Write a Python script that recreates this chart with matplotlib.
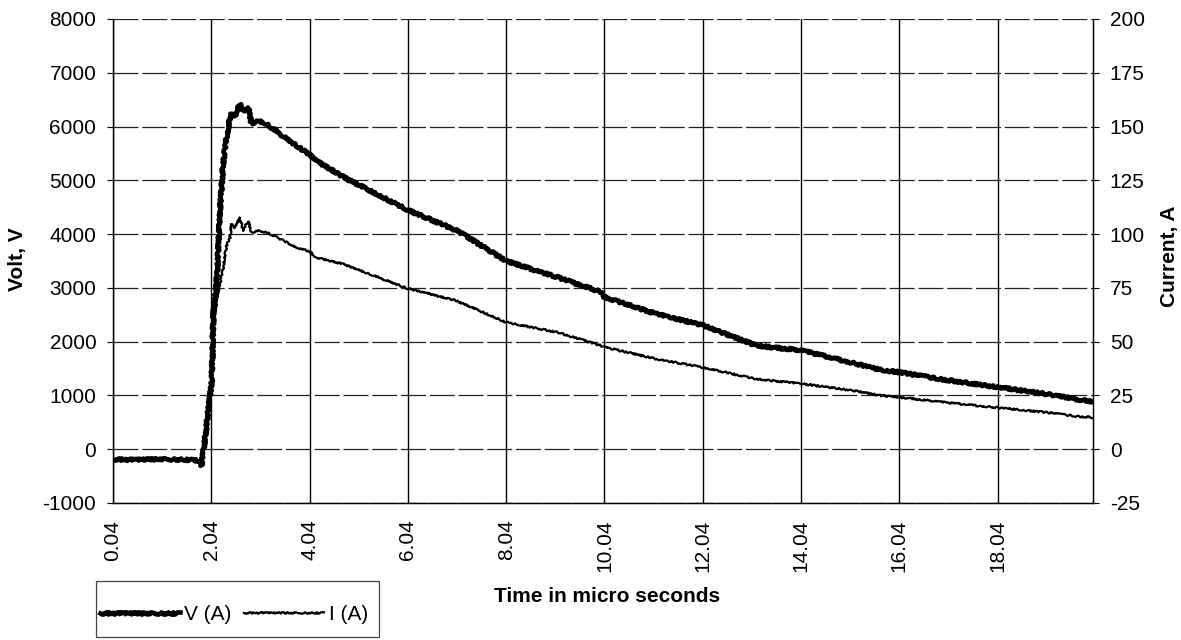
import numpy as np
import matplotlib.pyplot as plt
from matplotlib.patches import Rectangle

plt.rcParams['font.family'] = ['Liberation Sans', 'DejaVu Sans']
plt.rcParams['axes.unicode_minus'] = False

# values (time in micro seconds)
time_us = [0.04, 0.5, 1.0, 1.5, 1.8, 1.84, 1.90, 1.93, 2.05, 2.08, 2.15, 2.22,
           2.28, 2.35, 2.42, 2.45, 2.52, 2.62, 2.69, 2.72, 2.79, 2.86, 3.00,
           3.17, 3.44, 3.78, 4.04, 4.18, 4.73, 6.04, 7.03, 8.04, 9.07, 9.95,
           10.04, 11.10, 12.04, 13.14, 14.04, 15.17, 15.65, 16.04, 17.00,
           18.04, 19.04, 19.70, 19.98]
volt = [-190, -200, -185, -195, -210, -300, 100, 340, 1270, 2500, 3130, 4490,
        5300, 5800, 6150, 6230, 6200, 6420, 6280, 6290, 6350, 6045, 6106,
        6045, 5860, 5640, 5480, 5360, 5061, 4447, 4070, 3500, 3200, 2930,
        2830, 2515, 2305, 1925, 1840, 1587, 1477, 1432, 1287,
        1155, 1026, 920, 880]
current = [-4.8, -5.0, -4.6, -4.9, -5.2, -7.5, 2.0, 8.0, 30.0, 55.0, 70.0, 77.0,
           84.5, 94.5, 98.4, 104.6, 103.0, 107.7, 101.5, 103.0, 106.0, 100.8, 101.5,
           100.8, 97.7, 93.8, 91.9, 89.1, 86.0, 74.7, 69.0, 59.0, 54.4, 48.3,
           47.5, 41.9, 38.0, 32.6, 30.5, 27.0, 25.0, 24.2, 21.7,
           19.3, 17.1, 15.2, 14.8]

xticks = [0.04, 2.04, 4.04, 6.04, 8.04, 10.04, 12.04, 14.04, 16.04, 18.04]
volt_ticks = list(range(-1000, 8001, 1000))
amp_ticks = list(range(-25, 201, 25))

W, H = 1181, 640
fig = plt.figure(figsize=(W / 100, H / 100), dpi=100)
ax = fig.add_axes([113 / W, 1 - 503 / H, 980 / W, 484 / H])
ax2 = ax.twinx()

lv, = ax.plot(time_us, volt, color='black', lw=3.3, solid_joinstyle='round', label='V (A)')
li, = ax2.plot(time_us, current, color='black', lw=1.6, solid_joinstyle='round', label='I (A)')
lv.set_sketch_params(scale=1.2, length=3, randomness=4)
li.set_sketch_params(scale=0.8, length=3, randomness=4)

ax.set_xlim(0.04, 19.98)
ax.set_ylim(-1000, 8000)
ax2.set_ylim(-25, 200)
ax.set_xticks(xticks)
ax.set_xticklabels([f'{t:.2f}' for t in xticks], rotation=90)
ax.set_yticks(volt_ticks)
ax2.set_yticks(amp_ticks)

ax.grid(True, axis='x', color='black', lw=1.0)
ax.grid(True, axis='y', color='#222222', lw=0.9, linestyle=(0, (20, 3)))
ax.set_axisbelow(True)

for a in (ax, ax2):
    a.tick_params(labelsize=15, length=4, width=0.8, color='black', pad=8)
    for s in a.spines.values():
        s.set_color('black')
        s.set_linewidth(0.9)
    a.spines['top'].set_visible(False)
ax.tick_params(axis='x', length=0, pad=12)

fig.text(17 / W, 1 - 259 / H, 'Volt, V', rotation=90, fontsize=15, fontweight='bold',
         ha='center', va='center')
fig.text(1170 / W, 1 - 256 / H, 'Current, A', rotation=90, fontsize=15, fontweight='bold',
         ha='center', va='center')
fig.text(607 / W, 1 - 597 / H, 'Time in micro seconds', fontsize=15, fontweight='bold',
         ha='center', va='center')

# legend: box drawn separately so the padding matches the original
fig.patches.append(Rectangle((96 / W, 1 - 637 / H), 283 / W, 56 / H, transform=fig.transFigure,
                             fill=False, edgecolor='#444444', lw=0.9))
fig.legend(handles=[lv, li], loc='center left', bbox_to_anchor=(100 / W, 1 - 615 / H),
           ncol=2, fontsize=15, frameon=False, handlelength=3.85,
           handletextpad=0.2, columnspacing=0.6, borderaxespad=0, borderpad=0)

fig.savefig('out.png', dpi=100)
